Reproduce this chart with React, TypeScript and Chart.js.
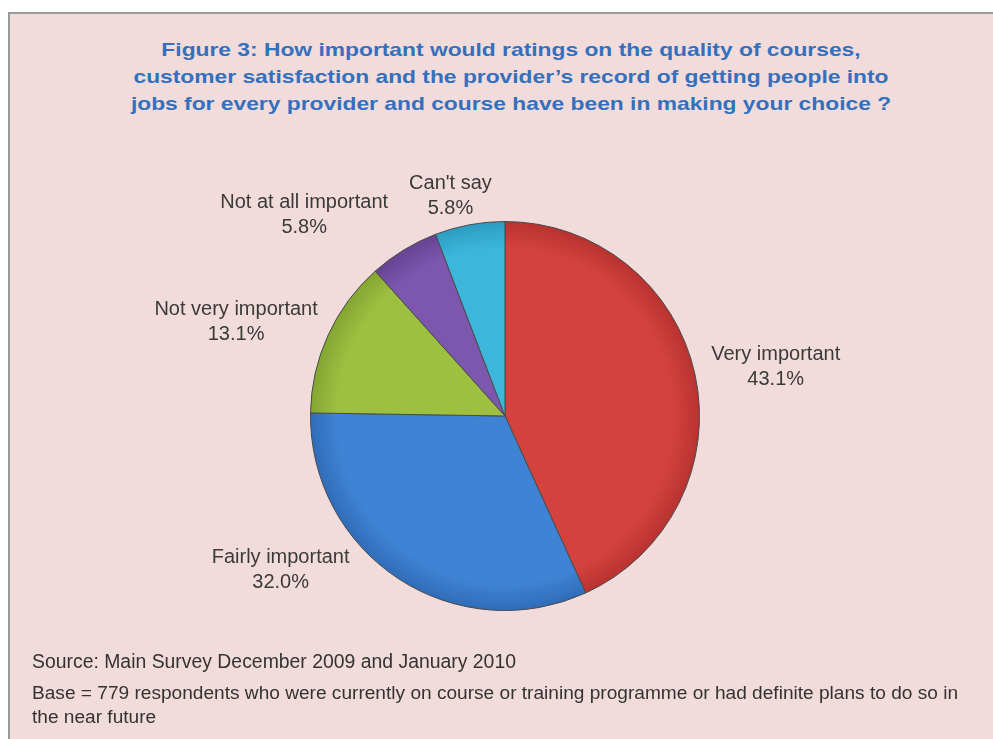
import React, { useEffect, useRef } from "react";
import { Chart, registerables } from "chart.js";

Chart.register(...registerables);

const titleLines = [
  "Figure 3: How important would ratings on the quality of courses,",
  "customer satisfaction and the provider\u2019s record of getting people into",
  "jobs for every provider and course have been in making your choice ?",
];
const categories = [
  "Very important",
  "Fairly important",
  "Not very important",
  "Not at all important",
  "Can't say",
];
const values = [43.1, 32.0, 13.1, 5.8, 5.8];
const valueLabels = ["43.1%", "32.0%", "13.1%", "5.8%", "5.8%"];
const sourceNote = "Source: Main Survey December 2009 and January 2010";
const baseNoteLines = [
  "Base = 779 respondents who were currently on course or training programme or had definite plans to do so in",
  "the near future",
];

// styling / layout (kept apart from the data)
const sliceColors = ["#D4423D", "#3F84D4", "#9DC040", "#7D56AE", "#3DB6DC"];
const sliceRimColors = ["#B8322F", "#2F6CB8", "#83A532", "#674392", "#2C9CC0"];
const labelNudges: [number, number][] = [
  [3, 1],
  [-72, -42],
  [-4, 3],
  [-48, -1],
  [-9, 11],
];
const LABEL_FONT = '20px "Liberation Sans", Arial, sans-serif';
const LABEL_COLOR = "#3a3a3a";

const outsideLabels = {
  id: "outsideLabels",
  afterDatasetsDraw(chart: any) {
    const ctx = chart.ctx;
    const meta = chart.getDatasetMeta(0);
    ctx.save();
    ctx.font = LABEL_FONT;
    ctx.fillStyle = LABEL_COLOR;
    ctx.textAlign = "center";
    ctx.textBaseline = "middle";
    const lh = 25;
    meta.data.forEach((arc: any, i: number) => {
      const p = arc.getProps(["x", "y", "startAngle", "endAngle", "outerRadius"], true);
      const mid = (p.startAngle + p.endAngle) / 2;
      const l1 = categories[i];
      const l2 = valueLabels[i];
      const w = Math.max(ctx.measureText(l1).width, ctx.measureText(l2).width);
      const h = lh * 2;
      const ax = p.x + (p.outerRadius + 15) * Math.cos(mid);
      const ay = p.y + (p.outerRadius + 15) * Math.sin(mid);
      const cx = ax + (w / 2) * Math.cos(mid) + labelNudges[i][0];
      const cy = ay + (h / 2) * Math.sin(mid) + labelNudges[i][1];
      ctx.fillText(l1, cx, cy - lh / 2);
      ctx.fillText(l2, cx, cy + lh / 2);
    });
    ctx.restore();
  },
};

function sliceFill(context: any) {
  const i = context.dataIndex;
  const chart = context.chart;
  const area = chart.chartArea;
  if (!area) return sliceColors[i];
  const cx = (area.left + area.right) / 2;
  const cy = (area.top + area.bottom) / 2;
  const r = Math.min(area.right - area.left, area.bottom - area.top) / 2;
  const g = chart.ctx.createRadialGradient(cx, cy, 0, cx, cy, r);
  g.addColorStop(0, sliceColors[i]);
  g.addColorStop(0.86, sliceColors[i]);
  g.addColorStop(1, sliceRimColors[i]);
  return g;
}

function PieChart() {
  const ref = useRef<HTMLCanvasElement | null>(null);
  useEffect(() => {
    if (!ref.current) return;
    const chart = new Chart(ref.current, {
      type: "pie",
      data: {
        labels: categories,
        datasets: [
          {
            data: values,
            backgroundColor: sliceFill,
            borderColor: "#4a4a4a",
            borderWidth: 1,
          },
        ],
      },
      options: {
        responsive: false,
        animation: false,
        devicePixelRatio: 1,
        layout: { padding: { left: 310, right: 293, top: 221, bottom: 128 } },
        plugins: {
          legend: { display: false },
          tooltip: { enabled: false },
          title: { display: false },
        },
      },
      plugins: [outsideLabels],
    });
    return () => chart.destroy();
  }, []);
  return (
    <canvas
      ref={ref}
      width={993}
      height={739}
      style={{ position: "absolute", left: 0, top: 0, width: 993, height: 739 }}
    />
  );
}

export default function App() {
  return (
    <div style={{ position: "absolute", left: 0, top: 0, width: 993, height: 739, overflow: "hidden", background: "#ffffff" }}>
      <div
        style={{
          position: "absolute",
          left: 8,
          top: 12,
          width: 993,
          height: 739,
          background: "#F2DCDB",
          borderTop: "2px solid #9a9a9a",
          borderLeft: "2px solid #9a9a9a",
        }}
      />
      <div
        style={{
          position: "absolute",
          left: 0,
          top: 36,
          width: 1022,
          textAlign: "center",
          fontFamily: '"Liberation Sans", Arial, sans-serif',
          fontWeight: "bold",
          fontSize: 19,
          lineHeight: "27px",
          color: "#3470BD",
          transform: "scaleX(1.2)",
          transformOrigin: "511px 0",
        }}
      >
        {titleLines.map((t, i) => (
          <div key={i}>{t}</div>
        ))}
      </div>
      <PieChart />
      <div
        style={{
          position: "absolute",
          left: 32,
          top: 649,
          fontFamily: '"Liberation Sans", Arial, sans-serif',
          fontSize: 19.4,
          lineHeight: "24px",
          color: "#333333",
          whiteSpace: "nowrap",
        }}
      >
        {sourceNote}
      </div>
      <div
        style={{
          position: "absolute",
          left: 32,
          top: 681,
          fontFamily: '"Liberation Sans", Arial, sans-serif',
          fontSize: 19.1,
          lineHeight: "24px",
          color: "#333333",
          whiteSpace: "nowrap",
        }}
      >
        {baseNoteLines.map((t, i) => (
          <div key={i}>{t}</div>
        ))}
      </div>
    </div>
  );
}
